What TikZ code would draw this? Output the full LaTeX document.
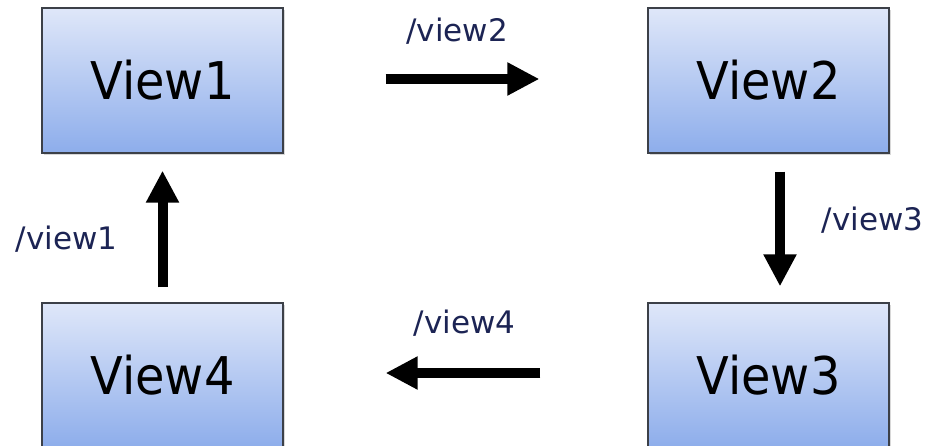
\documentclass[tikz,border=0pt]{standalone}
\usepackage{fontspec}
\setmainfont{DejaVu Sans}
\newfontfamily\boxfont[FakeStretch=0.92]{DejaVu Sans}
\usetikzlibrary{arrows.meta,shadows}
\definecolor{boxtop}{RGB}{223,231,249}
\definecolor{boxbot}{RGB}{141,173,235}
\definecolor{boxline}{RGB}{60,64,72}
\definecolor{labelcol}{RGB}{28,36,84}
\tikzset{
  viewbox/.style={draw=boxline, line width=1.2pt, top color=boxtop, bottom color=boxbot,
    minimum width=241pt, minimum height=145pt, inner sep=0pt,
    font=\boxfont\fontsize{52}{58}\selectfont, text=black,
    drop shadow={shadow xshift=2pt, shadow yshift=-2pt, opacity=0.3, fill=gray}},
  bigarrow/.style={line width=10pt, -{Triangle[length=32pt,width=31pt]}},
  pathlabel/.style={font=\fontsize{31}{35}\selectfont, text=labelcol, anchor=base, inner sep=0pt}
}
\begin{document}
\begin{tikzpicture}[x=1pt,y=-1pt]
  \fill[white] (0,0) rectangle (931,446);
  \useasboundingbox (0,0) rectangle (931,446);

  \node[viewbox] (v1) at (162.5,80.5) {View1};
  \node[viewbox] (v2) at (768.5,80.5) {View2};
  \node[viewbox] (v4) at (162.5,375.5) {View4};
  \node[viewbox] (v3) at (768.5,375.5) {View3};

  \draw[bigarrow, shorten <=102pt, shorten >=108pt] ([yshift=1.5pt]v1.east) -- ([yshift=1.5pt]v2.west);
  \draw[bigarrow, shorten <=18pt, shorten >=16pt] ([xshift=11.5pt]v2.south) -- ([xshift=11.5pt]v3.north);
  \draw[bigarrow, shorten <=107pt, shorten >=102pt] ([yshift=2.5pt]v3.west) -- ([yshift=2.5pt]v4.east);
  \draw[bigarrow, shorten <=15pt, shorten >=17pt] (v4.north) -- (v1.south);

  \node[pathlabel] (l2) at (457,42) {/view2};
  \node[pathlabel] (l3) at (872.5,231) {/view3};
  \node[pathlabel] (l4) at (464.5,333) {/view4};
  \node[pathlabel] (l1) at (66.5,250) {/view1};
\end{tikzpicture}
\end{document}
